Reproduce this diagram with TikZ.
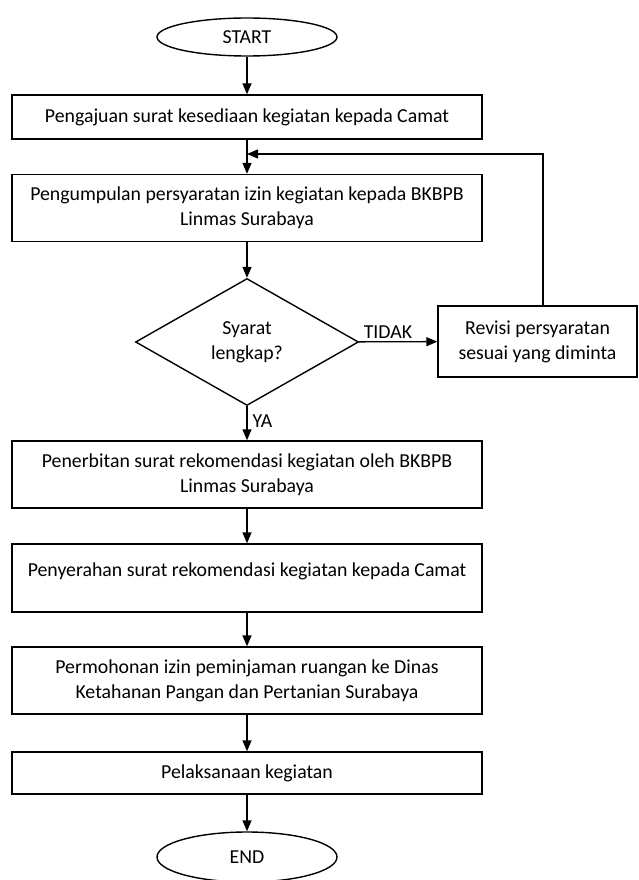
\documentclass[tikz,border=0pt]{standalone}
\usepackage{fontspec}
\setmainfont{Carlito}
\usetikzlibrary{shapes.geometric,arrows.meta}

\tikzset{
  box/.style={draw, rectangle, minimum width=470pt, align=center, inner sep=2pt},
  term/.style={draw, ellipse, minimum width=180pt, minimum height=38pt, inner sep=0pt},
  flow/.style={-{Triangle[length=11pt,width=9pt]}}
}

\begin{document}
\begin{tikzpicture}[x=1pt, y=-1pt, line width=1.4pt, font=\fontsize{19.8}{25}\selectfont]
\useasboundingbox (0,0) rectangle (638,880);
\node[term](start) at (247,37){START};
\node[box, minimum height=44pt](aju) at (247,117){Pengajuan surat kesediaan kegiatan kepada Camat};
\node[box, minimum height=67pt](kumpul) at (247,208){Pengumpulan persyaratan izin kegiatan kepada BKBPB\\Linmas Surabaya};
\node[draw, diamond, aspect=1.76, minimum width=223pt, minimum height=127pt, inner sep=0pt, align=center](syarat) at (247,342){Syarat\\lengkap?};
\node[draw, rectangle, minimum width=199pt, minimum height=71pt, align=center, inner sep=2pt](revisi) at (537.5,341.5){Revisi persyaratan\\sesuai yang diminta};
\node[box, minimum height=67pt](terbit) at (247,474.5){Penerbitan surat rekomendasi kegiatan oleh BKBPB\\Linmas Surabaya};
\node[box, minimum height=68pt, text depth=16pt](serah) at (247,578){Penyerahan surat rekomendasi kegiatan kepada Camat};
\node[box, minimum height=67pt](mohon) at (247,680.5){Permohonan izin peminjaman ruangan ke Dinas\\Ketahanan Pangan dan Pertanian Surabaya};
\node[box, minimum height=42pt](laksana) at (247,773){Pelaksanaan kegiatan};
\node[term, minimum height=50pt](end) at (247,857){END};
\coordinate (balik) at (247,154);
\coordinate (atas) at (543,306);
\draw[flow] (start) -- (aju);
\draw[flow] (aju) -- (kumpul);
\draw[flow] (kumpul) -- (syarat);
\draw[flow] (syarat) -- (revisi) node [pos=0.37, above, inner sep=3pt]{TIDAK};
\draw[flow] (atas) |- (balik);
\draw[flow] (syarat) -- (terbit) node [pos=0.45, right, inner sep=5pt]{YA};
\draw[flow] (terbit) -- (serah);
\draw[flow] (serah) -- (mohon);
\draw[flow] (mohon) -- (laksana);
\draw[flow] (laksana) -- (end);
\end{tikzpicture}
\end{document}
